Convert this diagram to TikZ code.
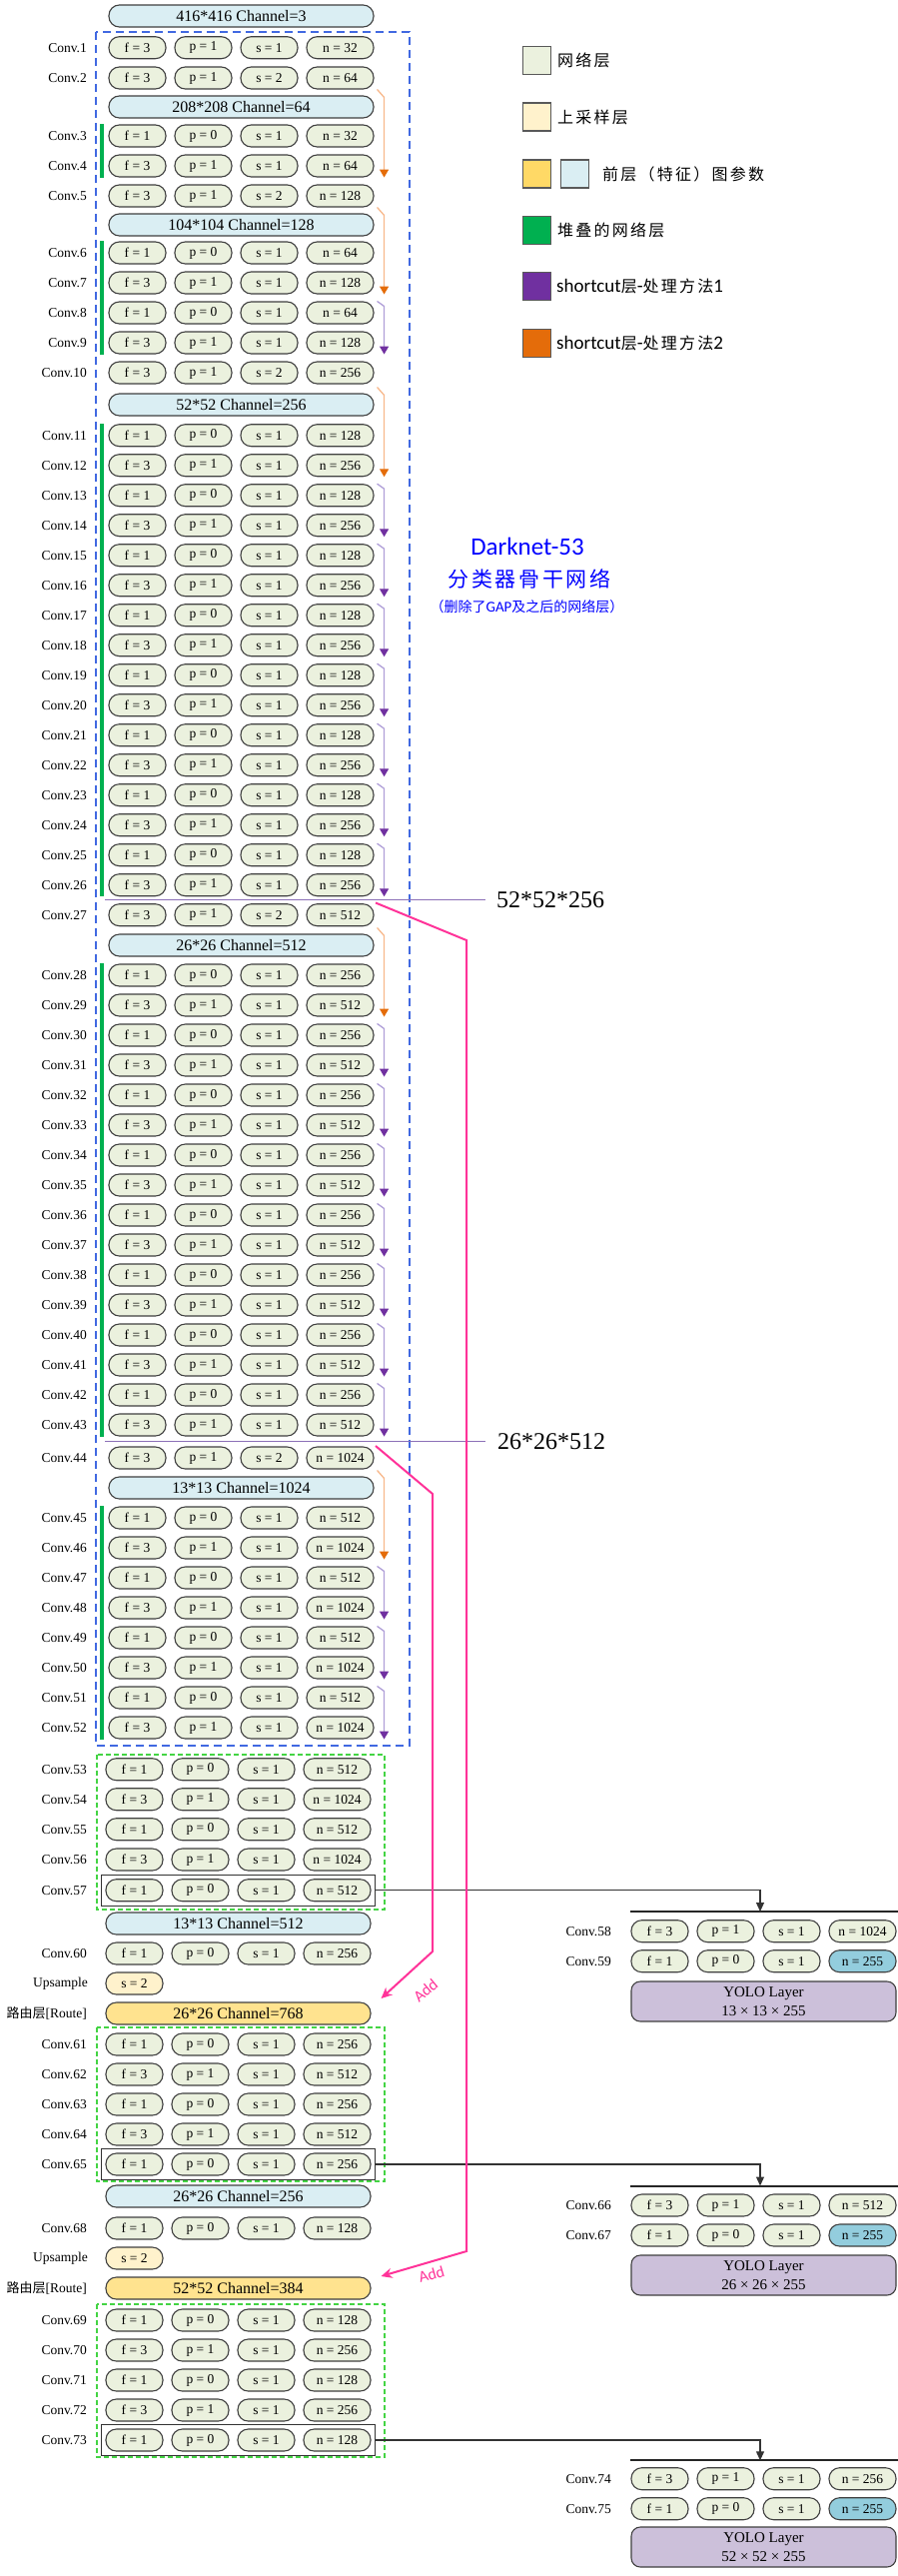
\documentclass[tikz,border=0pt]{standalone}
\usepackage{fontspec}
\setmainfont{Liberation Serif}
\newfontfamily\cjk{Noto Sans CJK SC}
\newfontfamily\cjkls{Noto Sans CJK SC}[LetterSpace=14]
\newfontfamily\cjkwide{Noto Sans CJK SC}[LetterSpace=12]
\newfontfamily\carl{Carlito}
\usetikzlibrary{arrows.meta,fit,calc}
\definecolor{pillfill}{HTML}{EBF1DE}
\definecolor{pillborder}{HTML}{404040}
\definecolor{hdrfill}{HTML}{DAEEF3}
\definecolor{routefill}{HTML}{FFE38F}
\definecolor{legyellow}{HTML}{FFD966}
\definecolor{upfill}{HTML}{FFF2CC}
\definecolor{cyanfill}{HTML}{93CDDD}
\definecolor{yolofill}{HTML}{CCC0DA}
\definecolor{stackgreen}{HTML}{00B050}
\definecolor{purdark}{HTML}{7030A0}
\definecolor{purlight}{HTML}{B09FD8}
\definecolor{ordark}{HTML}{E46C0A}
\definecolor{orlight}{HTML}{F8B88B}
\definecolor{addpink}{HTML}{FF3399}
\definecolor{boxblue}{HTML}{4169E1}
\definecolor{boxgreen}{HTML}{44D444}
\definecolor{featpurple}{HTML}{8C70B8}
\definecolor{dnblue}{HTML}{0000FF}
\definecolor{legborder}{HTML}{595959}
\newcommand{\fsz}[2]{\fontsize{#1}{#2}\selectfont}
\def\xo{0}
\tikzset{
  pill/.style={draw=pillborder, line width=1.1pt, fill=pillfill, rounded corners=10.5pt,
    minimum width=57pt, minimum height=22pt, inner sep=0pt, font=\fsz{13.5}{16}},
  pillw/.style={pill, minimum width=67pt},
  hdr/.style={pill, fill=hdrfill, minimum width=265pt, font=\fsz{16}{19}},
  route/.style={hdr, fill=routefill},
  ups/.style={pill, fill=upfill},
  cyanp/.style={fill=cyanfill},
  plainp/.style={},
  lbl/.style={anchor=east, inner sep=0pt, font=\fsz{13.5}{16}},
  orline/.style={draw=orlight, line width=1.3pt, -{Triangle[width=9pt,length=8pt,color=ordark]}},
  puline/.style={draw=purlight, line width=1.3pt, -{Triangle[width=9pt,length=8pt,color=purdark]}},
  gbar/.style={draw=stackgreen, line width=4pt},
  bluebox/.style={draw=boxblue, line width=1.6pt, dash pattern=on 8pt off 5pt},
  greenbox/.style={draw=boxgreen, line width=1.5pt, dash pattern=on 5pt off 3pt},
  selbox/.style={draw=black!80, line width=1.1pt, inner sep=4pt, rectangle},
  conn/.style={draw=black!80, line width=1.1pt, -{Triangle[width=8pt,length=9pt]}},
  thickbar/.style={draw=black!85, line width=2pt},
  featline/.style={draw=featpurple, line width=1.4pt},
  featlbl/.style={anchor=west, inner sep=0pt, font=\fsz{24}{28}},
  pinkl/.style={draw=addpink, line width=2pt, -{Stealth[length=11pt,width=10pt]}},
  addlbl/.style={text=addpink, font=\carl\fsz{16}{18}, inner sep=0pt},
  legbox/.style={draw=legborder, line width=1.2pt, minimum size=28pt, inner sep=0pt},
  legtxt/.style={anchor=west, inner sep=0pt, font=\cjkls\fsz{16}{19}},
  yolo/.style={draw=pillborder, line width=1.1pt, fill=yolofill, rounded corners=9pt,
    minimum width=265pt, minimum height=40pt, inner sep=0pt, align=center, font=\fsz{15}{19}}
}
\newcommand{\crow}[7]{%
  \node[lbl] (l#1) at (87,#2) {#3};
  \node[pill] (f#1) at ({137.5+(\xo)},#2) {f = #4};
  \node[pill] (p#1) at ({203.5+(\xo)},#2) {p = #5};
  \node[pill] (s#1) at ({269.5+(\xo)},#2) {s = #6};
  \node[pillw] (n#1) at ({340.5+(\xo)},#2) {n = #7};}
\newcommand{\crowR}[8]{%
  \node[lbl] (l#1) at (612,#2) {#3};
  \node[pill] (f#1) at (660.5,#2) {f = #4};
  \node[pill] (p#1) at (726.5,#2) {p = #5};
  \node[pill] (s#1) at (792.5,#2) {s = #6};
  \node[pillw,#8] (n#1) at (863.5,#2) {n = #7};}
\newcommand{\resblk}[5]{%
  \foreach \i in {1,...,#2}{%
    \pgfmathtruncatemacro\ka{#1+2*(\i-1)}%
    \pgfmathtruncatemacro\kb{\ka+1}%
    \pgfmathsetmacro\ya{#3+60*(\i-1)}%
    \pgfmathsetmacro\yb{\ya+30}%
    \crow{\ka}{\ya}{Conv.\ka}{1}{0}{1}{#4}%
    \crow{\kb}{\yb}{Conv.\kb}{3}{1}{1}{#5}%
  }}
\newcommand{\oarr}[2]{\draw[orline] ([shift={(3,-6)}]#1.north east) -- ++(7,8) coordinate (tmpo) -- (tmpo |- #2.south);}
\newcommand{\parr}[2]{\draw[puline] ([xshift=3pt]#1.north east) -- ++(7,5) coordinate (tmpp) -- (tmpp |- #2.south);}
\newcommand{\gbarr}[2]{\draw[gbar] ([xshift=-6pt]f#1.north west) -- ([xshift=-6pt]f#2.south west);}
\begin{document}
\begin{tikzpicture}[x=1pt,y=-1pt]
\fill[white] (0,0) rectangle (899,2578);
\useasboundingbox (0,0) rectangle (899,2578);

% ---------- Darknet-53 backbone ----------
\draw[bluebox] (96,32) rectangle (410,1747);
\node[hdr] (h416) at (241.5,16) {416*416 Channel=3};
\crow{1}{47.7}{Conv.1}{3}{1}{1}{32}
\crow{2}{78}{Conv.2}{3}{1}{2}{64}
\node[hdr] (h208) at (241.5,107) {208*208 Channel=64};
\crow{3}{136}{Conv.3}{1}{0}{1}{32}
\crow{4}{166}{Conv.4}{3}{1}{1}{64}
\crow{5}{196}{Conv.5}{3}{1}{2}{128}
\node[hdr] (h104) at (241.5,225) {104*104 Channel=128};
\resblk{6}{2}{253}{64}{128}
\crow{10}{373}{Conv.10}{3}{1}{2}{256}
\node[hdr] (h52) at (241.5,405) {52*52 Channel=256};
\resblk{11}{8}{435.7}{128}{256}
\crow{27}{915.7}{Conv.27}{3}{1}{2}{512}
\node[hdr] (h26) at (241.5,946) {26*26 Channel=512};
\resblk{28}{8}{976}{256}{512}
\crow{44}{1459}{Conv.44}{3}{1}{2}{1024}
\node[hdr] (h13) at (241.5,1489) {13*13 Channel=1024};
\resblk{45}{4}{1519}{512}{1024}

% stacked bars
\gbarr{3}{4}
\gbarr{6}{9}
\gbarr{11}{26}
\gbarr{28}{43}
\gbarr{45}{52}

% shortcut arrows
\oarr{h208}{n4}
\oarr{h104}{n7}
\parr{n8}{n9}
\oarr{h52}{n12}
\foreach \k in {13,15,...,25}{\pgfmathtruncatemacro\kk{\k+1}\parr{n\k}{n\kk}}
\oarr{h26}{n29}
\foreach \k in {30,32,...,42}{\pgfmathtruncatemacro\kk{\k+1}\parr{n\k}{n\kk}}
\oarr{h13}{n46}
\foreach \k in {47,49,51}{\pgfmathtruncatemacro\kk{\k+1}\parr{n\k}{n\kk}}

% feature outputs
\node[featlbl] (o52) at (497,900.5) {52*52*256};
\node[featlbl] (o26) at (498,1442.7) {26*26*512};
\coordinate (fl52) at (105,900.5);
\coordinate (fl26) at (105,1442.7);
\draw[featline] (fl52) -- ([xshift=-11pt]o52.west);
\draw[featline] (fl26) -- ([xshift=-12pt]o26.west);

% ---------- lower part ----------
\def\xo{-3}
\draw[greenbox] (97,1756) rectangle (385,1911);
\draw[greenbox] (97,2029) rectangle (385,2183);
\draw[greenbox] (97,2306) rectangle (385,2459);
\crow{53}{1770.7}{Conv.53}{1}{0}{1}{512}
\crow{54}{1800.7}{Conv.54}{3}{1}{1}{1024}
\crow{55}{1830.7}{Conv.55}{1}{0}{1}{512}
\crow{56}{1861}{Conv.56}{3}{1}{1}{1024}
\crow{57}{1891.7}{Conv.57}{1}{0}{1}{512}
\node[hdr] (h13b) at ({241.5+(\xo)},1925) {13*13 Channel=512};
\crow{60}{1955}{Conv.60}{1}{0}{1}{256}
\node[lbl] (lu1) at (88,1985) {Upsample};
\node[ups] (u1) at ({137.5+(\xo)},1985) {s = 2};
\node[lbl] (lr1) at (87,2015) {{\cjk\fsz{13}{16}路由层}[Route]};
\node[route] (r768) at ({241.5+(\xo)},2015) {26*26 Channel=768};
\crow{61}{2046}{Conv.61}{1}{0}{1}{256}
\crow{62}{2076}{Conv.62}{3}{1}{1}{512}
\crow{63}{2106}{Conv.63}{1}{0}{1}{256}
\crow{64}{2136}{Conv.64}{3}{1}{1}{512}
\crow{65}{2166}{Conv.65}{1}{0}{1}{256}
\node[hdr] (h26b) at ({241.5+(\xo)},2198) {26*26 Channel=256};
\crow{68}{2230}{Conv.68}{1}{0}{1}{128}
\node[lbl] (lu2) at (88,2260) {Upsample};
\node[ups] (u2) at ({137.5+(\xo)},2260) {s = 2};
\node[lbl] (lr2) at (87,2290) {{\cjk\fsz{13}{16}路由层}[Route]};
\node[route] (r384) at ({241.5+(\xo)},2290) {52*52 Channel=384};
\crow{69}{2322}{Conv.69}{1}{0}{1}{128}
\crow{70}{2352}{Conv.70}{3}{1}{1}{256}
\crow{71}{2382}{Conv.71}{1}{0}{1}{128}
\crow{72}{2412}{Conv.72}{3}{1}{1}{256}
\crow{73}{2442}{Conv.73}{1}{0}{1}{128}

\node[selbox, fit=(f57)(n57)] (b57) {};
\node[selbox, fit=(f65)(n65)] (b65) {};
\node[selbox, fit=(f73)(n73)] (b73) {};

% ---------- YOLO heads ----------
\coordinate (t1L) at (631,1913); \coordinate (t1R) at (899,1913); \coordinate (a1) at (761,1913);
\coordinate (t2L) at (631,2187.5); \coordinate (t2R) at (899,2187.5); \coordinate (a2) at (761,2187.5);
\coordinate (t3L) at (631,2462.3); \coordinate (t3R) at (899,2462.3); \coordinate (a3) at (761,2462.3);
\draw[thickbar] (t1L) -- (t1R);
\draw[thickbar] (t2L) -- (t2R);
\draw[thickbar] (t3L) -- (t3R);
\draw[conn] (b57.east) -| (a1);
\draw[conn] (b65.east) -| (a2);
\draw[conn] (b73.east) -| (a3);

\crowR{58}{1932.7}{Conv.58}{3}{1}{1}{1024}{plainp}
\crowR{59}{1962.7}{Conv.59}{1}{0}{1}{255}{cyanp}
\node[yolo] (y13) at (764.5,2003) {YOLO Layer\\13 × 13 × 255};
\crowR{66}{2207}{Conv.66}{3}{1}{1}{512}{plainp}
\crowR{67}{2237}{Conv.67}{1}{0}{1}{255}{cyanp}
\node[yolo] (y26) at (764.5,2277) {YOLO Layer\\26 × 26 × 255};
\crowR{74}{2480.7}{Conv.74}{3}{1}{1}{256}{plainp}
\crowR{75}{2510.7}{Conv.75}{1}{0}{1}{255}{cyanp}
\node[yolo] (y52) at (764.5,2549) {YOLO Layer\\52 × 52 × 255};

% ---------- Add (route) connectors ----------
\coordinate (ps1) at (376,903.5);
\coordinate (ps2) at (376,1447);
\draw[pinkl] (ps1) -- (467,941) -- (467,2253) -- ([shift={(10,-12)}]r384.east);
\draw[pinkl] (ps2) -- (433,1495) -- (433,1953) -- ([shift={(10,-15)}]r768.east);
\node[addlbl, rotate=40] (add1) at (426,1992) {Add};
\node[addlbl, rotate=16] (add2) at (432,2276) {Add};

% ---------- Darknet title ----------
\node[text=dnblue, font=\carl\fsz{25}{30}] (dk1) at (528,546.7) {Darknet-53};
\node[text=dnblue, font=\cjkwide\fsz{21}{25}] (dk2) at (530,579) {分类器骨干网络};
\node[text=dnblue, font=\cjk\fsz{14}{17}] (dk3) at (527.5,607) {（删除了{\carl\fsz{15}{17}GAP}及之后的网络层）};

% ---------- legend ----------
\node[legbox, fill=pillfill] (lg1) at (537.5,60.7) {};
\node[legtxt] (lt1) at (558,60.7) {网络层};
\node[legbox, fill=upfill] (lg2) at (537.5,117) {};
\node[legtxt] (lt2) at (558,117) {上采样层};
\node[legbox, fill=legyellow] (lg3) at (537.5,174) {};
\node[legbox, fill=hdrfill] (lg3b) at (575.5,174) {};
\node[legtxt] (lt3) at (603,174) {前层（特征）图参数};
\node[legbox, fill=stackgreen] (lg4) at (537.5,230.7) {};
\node[legtxt] (lt4) at (558,230.7) {堆叠的网络层};
\node[legbox, fill=purdark] (lg5) at (537.5,286.7) {};
\node[legtxt] (lt5) at (557,286.7) {{\carl\fsz{19}{22}shortcut}层{\carl\fsz{19}{22}-}处理方法{\carl\fsz{19}{22}1}};
\node[legbox, fill=ordark] (lg6) at (537.5,343.3) {};
\node[legtxt] (lt6) at (557,343.3) {{\carl\fsz{19}{22}shortcut}层{\carl\fsz{19}{22}-}处理方法{\carl\fsz{19}{22}2}};
\end{tikzpicture}
\end{document}
